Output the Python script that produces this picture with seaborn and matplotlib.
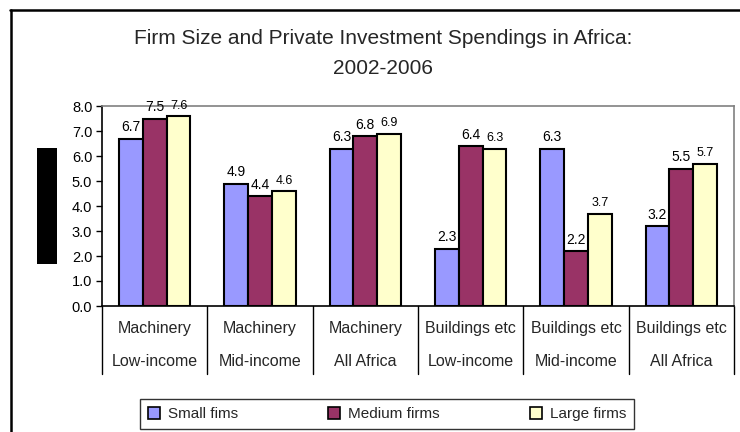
import matplotlib
matplotlib.use("Agg")
import matplotlib.pyplot as plt
import matplotlib.transforms as mtransforms
from matplotlib.patches import Rectangle
from matplotlib.lines import Line2D
import numpy as np
import pandas as pd
import seaborn as sns

# ---- data ----
asset_types = ["Machinery", "Machinery", "Machinery",
               "Buildings etc", "Buildings etc", "Buildings etc"]
regions = ["Low-income", "Mid-income", "All Africa",
           "Low-income", "Mid-income", "All Africa"]
series_names = ["Small fims", "Medium firms", "Large firms"]
small_firms = [6.7, 4.9, 6.3, 2.3, 6.3, 3.2]
medium_firms = [7.5, 4.4, 6.8, 6.4, 2.2, 5.5]
large_firms = [7.6, 4.6, 6.9, 6.3, 3.7, 5.7]
y_ticks = [0, 1, 2, 3, 4, 5, 6, 7, 8]
title_lines = ["Firm Size and Private Investment Spendings in Africa:", "2002-2006"]

colors = ["#9999FF", "#993366", "#FFFFCC"]

rows = []
for i in range(len(regions)):
    for name, vals in zip(series_names, [small_firms, medium_firms, large_firms]):
        rows.append({"cat": i, "series": name, "value": vals[i]})
df = pd.DataFrame(rows)

sns.set_theme(style="white")
plt.rcParams["font.family"] = ["Liberation Sans", "DejaVu Sans"]

W, H = 740, 432
fig = plt.figure(figsize=(W / 100, H / 100), dpi=100)
ax = fig.add_axes([102 / W, 1 - 306 / H, (734 - 102) / W, 200 / H])

sns.barplot(data=df, x="cat", y="value", hue="series", hue_order=series_names,
            palette=colors, edgecolor="black", linewidth=1.5, width=0.68,
            dodge=True, ax=ax, legend=False, saturation=1, native_scale=True)

ax.set_xlim(-0.5, 5.5)
ax.set_ylim(0, 8)
ax.set_yticks(y_ticks)
ax.set_yticklabels([f"{v:.1f}" for v in y_ticks], fontsize=10.5)
ax.tick_params(axis="y", which="both", left=True, length=4, width=1,
               color="black", pad=3, labelcolor="black")
ax.set_xticks([])
ax.set_xlabel("")
ax.set_ylabel("")

for side in ["top", "right"]:
    ax.spines[side].set_color("#808080")
    ax.spines[side].set_linewidth(1.2)
for side in ["left", "bottom"]:
    ax.spines[side].set_color("black")
    ax.spines[side].set_linewidth(1.2)

# value labels
for k, cont in enumerate(ax.containers):
    ax.bar_label(cont, fmt="%.1f", padding=3,
                 fontsize=10 if k < 2 else 9, color="black")

# category labels (two rows) and separators
trans = mtransforms.blended_transform_factory(ax.transData, ax.transAxes)
for i, (a, r) in enumerate(zip(asset_types, regions)):
    ax.text(i, -0.11, a, transform=trans, ha="center", va="center", fontsize=11.5)
    ax.text(i, -0.28, r, transform=trans, ha="center", va="center", fontsize=11.5)
for xb in np.arange(-0.5, 6.0, 1.0):
    ax.add_line(Line2D([xb, xb], [0, -0.34], transform=trans, color="black",
                       linewidth=1.0, clip_on=False))

# title
fig.text(383 / W, 1 - 38 / H, title_lines[0], ha="center", va="center", fontsize=15)
fig.text(383 / W, 1 - 68 / H, title_lines[1], ha="center", va="center", fontsize=15)

# legend
handles = [Rectangle((0, 0), 1, 1, facecolor=c, edgecolor="black", linewidth=1.2)
           for c in colors]
leg = fig.legend(handles, series_names, ncol=3, loc="center",
                 bbox_to_anchor=(387 / W, 1 - 414 / H), frameon=True,
                 fontsize=11, handlelength=0.8, handleheight=0.8,
                 handletextpad=0.5, columnspacing=5.9, borderpad=0.5,
                 fancybox=False)
leg.get_frame().set_edgecolor("black")
leg.get_frame().set_linewidth(1.0)

# outer frame lines
fig.add_artist(Line2D([10 / W, 1], [1 - 10 / H, 1 - 10 / H], transform=fig.transFigure,
                      color="black", linewidth=1.8))
fig.add_artist(Line2D([11 / W, 11 / W], [0, 1 - 10 / H], transform=fig.transFigure,
                      color="black", linewidth=1.8))
# black block (redacted axis label)
fig.add_artist(Rectangle((37 / W, 1 - 264 / H), 20 / W, 116 / H,
                         transform=fig.transFigure, facecolor="black",
                         edgecolor="none"))

fig.savefig("out.png", dpi=100)
